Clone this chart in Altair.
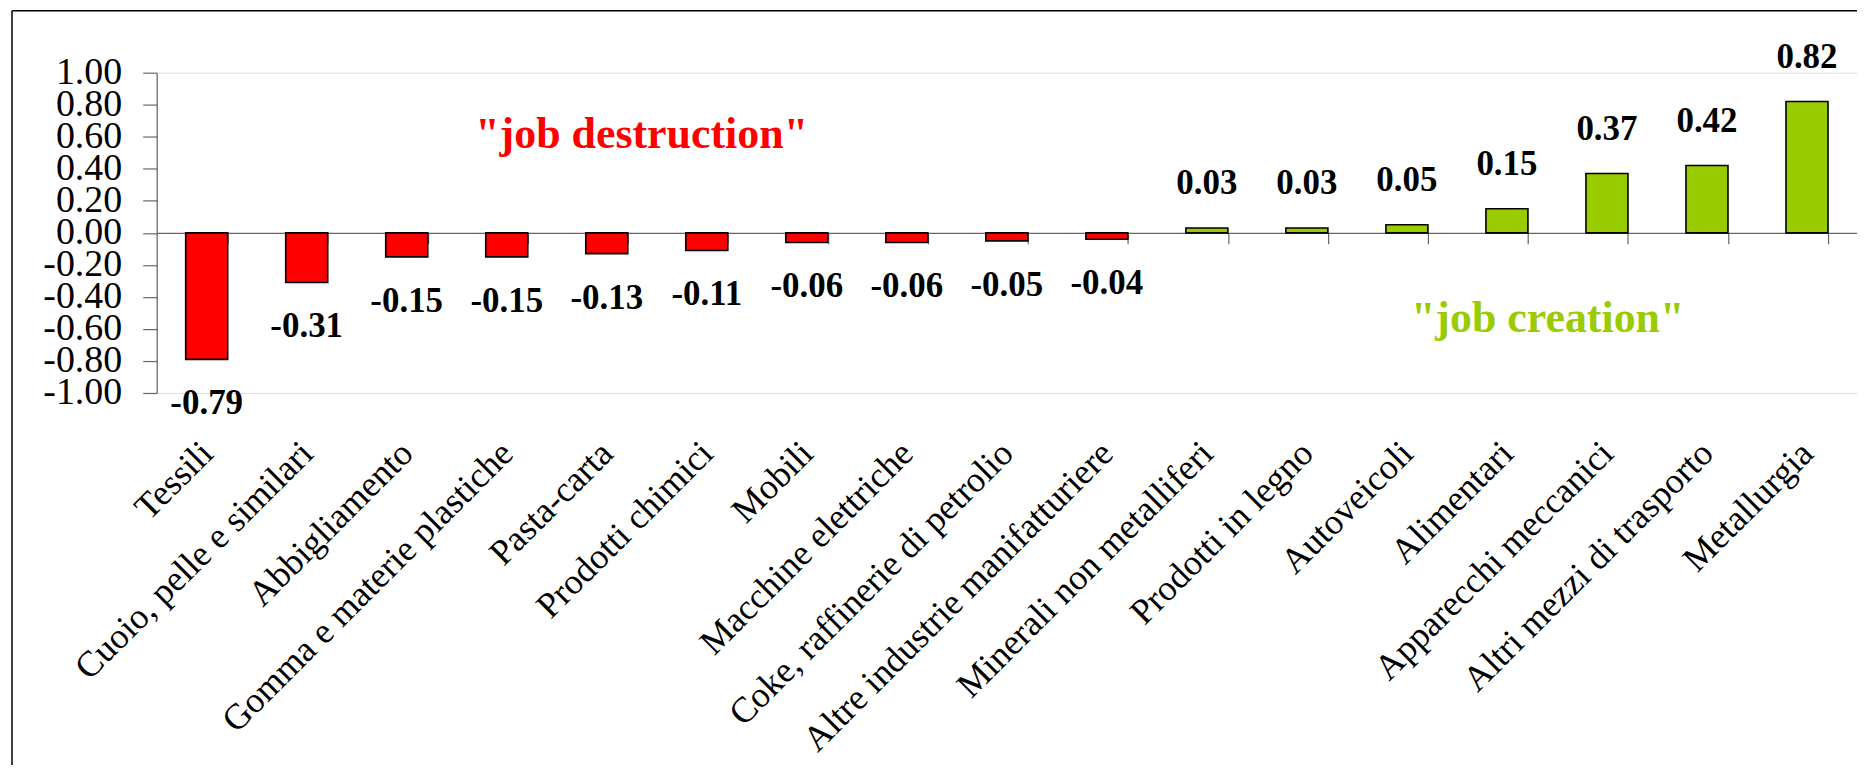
import altair as alt
import pandas as pd

categories = [
    "Tessili", "Cuoio, pelle e similari", "Abbigliamento",
    "Gomma e materie plastiche", "Pasta-carta", "Prodotti chimici", "Mobili",
    "Macchine elettriche", "Coke, raffinerie di petrolio",
    "Altre industrie manifatturiere", "Minerali non metalliferi",
    "Prodotti in legno", "Autoveicoli", "Alimentari", "Apparecchi meccanici",
    "Altri mezzi di trasporto", "Metallurgia",
]
values = [-0.79, -0.31, -0.15, -0.15, -0.13, -0.11, -0.06, -0.06, -0.05,
          -0.04, 0.03, 0.03, 0.05, 0.15, 0.37, 0.42, 0.82]
y_ticks = [-1.0, -0.8, -0.6, -0.4, -0.2, 0.0, 0.2, 0.4, 0.6, 0.8, 1.0]

RED = "#FF0000"
GREEN = "#99CC00"
FONT = "Liberation Serif"

df = pd.DataFrame({"cat": categories, "val": values})
df["lbl"] = [f"{v:.2f}" for v in values]

W, H = 1704, 321

x = alt.X(
    "cat:N", sort=categories, title=None,
    scale=alt.Scale(paddingInner=0.58, paddingOuter=0.29),
    axis=alt.Axis(
        orient="bottom", offset=-160.5, domainColor="#666666", domainWidth=1.2,
        tickColor="#666666", tickSize=11, tickWidth=1.2, tickBand="extent",
        labelAngle=-45, labelAlign="right", labelBaseline="middle",
        labelPadding=204, labelFont=FONT,
        labelFontSize=36, labelColor="#000000", labelLimit=1000,
        labelOverlap=False, labelBound=False, labelFlush=False,
    ),
)
y = alt.Y(
    "val:Q", title=None,
    scale=alt.Scale(domain=[-1, 1], nice=False, zero=False),
    axis=alt.Axis(
        values=y_ticks, tickCount=11,
        labelExpr="replace(format(datum.value, '.2f'), '\u2212', '-')",
        grid=False, domainColor="#666666", domainWidth=1.2, tickColor="#666666",
        tickSize=14, tickWidth=1.2, labelPadding=21, labelFont=FONT,
        labelFontSize=38, labelColor="#000000", labelBaseline="middle",
        labelOverlap=False, labelBound=False, labelFlush=False,
    ),
)

base = alt.Chart(df)

bars = base.mark_bar(stroke="#000000", strokeWidth=1.6).encode(
    x=x, y=y,
    color=alt.condition(alt.datum.val < 0, alt.value(RED), alt.value(GREEN)),
)

pos_lbl = base.transform_filter(alt.datum.val >= 0).mark_text(
    font=FONT, fontWeight="bold", fontSize=35, baseline="alphabetic", dy=-34,
    color="#000000",
).encode(x=x, y=y, text="lbl:N")

neg_lbl = base.transform_filter(alt.datum.val < 0).mark_text(
    font=FONT, fontWeight="bold", fontSize=35, baseline="alphabetic", dy=55,
    color="#000000",
).encode(x=x, y=y, text="lbl:N")

ann = pd.DataFrame({
    "t": ['"job destruction"', '"job creation"'],
})
ann_destr = alt.Chart(ann.iloc[[0]]).mark_text(
    font=FONT, fontWeight="bold", fontSize=44, baseline="alphabetic",
    align="center", color=RED,
).encode(x=alt.value(486), y=alt.datum(0.53), text="t:N")
ann_creat = alt.Chart(ann.iloc[[1]]).mark_text(
    font=FONT, fontWeight="bold", fontSize=44, baseline="alphabetic",
    align="center", color=GREEN,
).encode(x=alt.value(1394), y=alt.datum(-0.617), text="t:N")

one = pd.DataFrame({"k": [0]})
border_left = alt.Chart(one).mark_rule(color="#000000", strokeWidth=1.5).encode(
    x=alt.value(-145), y=alt.value(-62), y2=alt.value(900))
border_top = alt.Chart(one).mark_rule(color="#000000", strokeWidth=1.5).encode(
    y=alt.value(-62), x=alt.value(-145), x2=alt.value(2200))

chart = alt.layer(
    border_left, border_top, bars, pos_lbl, neg_lbl, ann_destr, ann_creat
).properties(
    width=W, height=H,
    autosize=alt.AutoSizeParams(type="none"),
    padding={"left": 149, "top": 64, "right": 0, "bottom": 372},
).configure_view(stroke=None).configure(background="#FFFFFF")

chart.save("out.html", embed_options={"renderer": "svg", "actions": False})
